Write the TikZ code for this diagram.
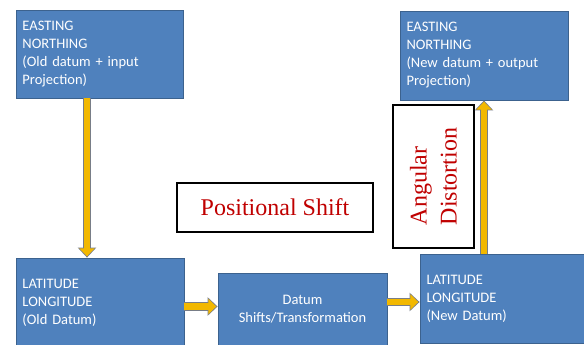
\documentclass[tikz,border=0pt]{standalone}
\usepackage{fontspec}
\setmainfont{Liberation Serif}
\newfontfamily\calibri{Carlito}
\usetikzlibrary{positioning, arrows.meta}

\definecolor{boxblue}{RGB}{79,129,189}
\definecolor{boxedge}{RGB}{60,98,142}
\definecolor{arrowyellow}{RGB}{242,184,0}
\definecolor{arrowedge}{RGB}{120,125,135}
\definecolor{labelred}{RGB}{192,0,0}

\tikzset{
  bluebox/.style={draw=boxedge, fill=boxblue, text=white, line width=0.8pt,
    font=\calibri\fontsize{14.5}{18}\selectfont, align=left, inner xsep=6.5pt},
  redlabel/.style={draw=black, line width=1.2pt, fill=white, text=labelred,
    font=\fontsize{24}{30}\selectfont},
  arrowline/.style={draw=arrowedge, line width=8.5pt, -{Triangle[width=18pt,length=10pt]}},
  arrowbody/.style={draw=arrowyellow, line width=6.5pt, shorten >=1.3pt, -{Triangle[width=15pt,length=8pt]}}
}

% dicke gelbe Pfeile mit grauem Rand
\newcommand{\yellowarrow}[2]{%
  \draw[arrowline] #1 -- #2;
  \draw[arrowbody] #1 -- #2;
}

\begin{document}
\begin{tikzpicture}[x=1pt, y=-1pt]

\useasboundingbox (0,0) rectangle (584,345);

% Kaesten oben
\node[bluebox, text width=154pt, minimum height=88pt] (eastOld) at (99.5,54)
  {EASTING\\NORTHING\\(Old datum + input\\Projection)};
\node[bluebox, text width=155pt, minimum height=89pt] (eastNew) at (484,55.5)
  {EASTING\\NORTHING\\(New datum + output\\Projection)};

% Kaesten unten
\node[bluebox, text width=155pt, minimum height=90pt] (latOld) at (100,303)
  {LATITUDE\\LONGITUDE\\(Old Datum)};
\node[bluebox, text width=156pt, minimum height=73pt, align=center] (datum) at (302.5,309.5)
  {Datum\\Shifts/Transformation};
\node[bluebox, text width=157pt, minimum height=89pt] (latNew) at (505,298.5)
  {LATITUDE\\LONGITUDE\\(New Datum)};

% Beschriftungen
\node[redlabel, minimum width=196pt, minimum height=49pt] (posShift) at (275,207.5)
  {Positional Shift};
\node[redlabel, rotate=90, align=left, minimum width=143pt, minimum height=81pt] (angDist) at (433.5,176.5)
  {Angular\\Distortion};

% Pfeile
\yellowarrow{([xshift=-12.5pt]eastOld.south)}{([xshift=-12.5pt]eastOld.south |- latOld.north)}
\yellowarrow{([yshift=3pt]datum.west -| latOld.east)}{([yshift=3pt]datum.west)}
\yellowarrow{([yshift=-3.5pt]latNew.west -| datum.east)}{([yshift=-3.5pt]latNew.west)}
\yellowarrow{(latNew.north -| eastNew.south)}{(eastNew.south)}

\end{tikzpicture}
\end{document}
